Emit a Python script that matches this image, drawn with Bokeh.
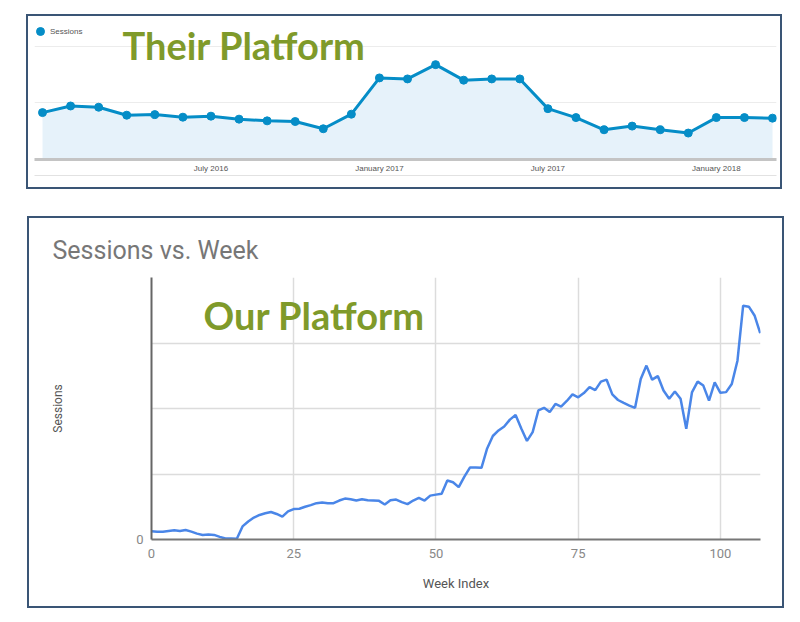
from bokeh.plotting import figure
from bokeh.models import Range1d, FixedTicker, Label, Legend, LegendItem, ColumnDataSource, LinearAxis
from bokeh.embed import file_html
from bokeh.resources import INLINE

# ---------------- data ----------------
months = ["Jan 2016", "Feb 2016", "Mar 2016", "Apr 2016", "May 2016", "Jun 2016",
          "Jul 2016", "Aug 2016", "Sep 2016", "Oct 2016", "Nov 2016", "Dec 2016",
          "Jan 2017", "Feb 2017", "Mar 2017", "Apr 2017", "May 2017", "Jun 2017",
          "Jul 2017", "Aug 2017", "Sep 2017", "Oct 2017", "Nov 2017", "Dec 2017",
          "Jan 2018", "Feb 2018", "Mar 2018"]
their_sessions = [830, 947, 925, 784, 795, 749, 767, 714, 684, 672, 544, 802,
                  1444, 1426, 1679, 1404, 1426, 1426, 900, 742, 526, 591, 526, 468,
                  742, 742, 732]
month_tick_pos = [6, 12, 18, 24]
month_tick_labels = ["July 2016", "January 2017", "July 2017", "January 2018"]

weeks = list(range(108))
our_sessions = [127, 120, 120, 130, 140, 130, 145, 120, 90, 70,
                75, 70, 40, 15, 15, 10, 200, 275, 335, 375,
                400, 420, 390, 350, 430, 465, 470, 500, 525, 555,
                565, 555, 555, 595, 625, 615, 595, 615, 600, 595,
                590, 535, 600, 610, 570, 540, 595, 635, 595, 670,
                685, 700, 900, 875, 800, 960, 1100, 1100, 1095, 1390,
                1580, 1665, 1725, 1830, 1900, 1695, 1505, 1640, 1970, 2010,
                1945, 2070, 2030, 2115, 2215, 2170, 2235, 2325, 2280, 2410,
                2440, 2215, 2130, 2085, 2045, 2010, 2450, 2655, 2440, 2495,
                2275, 2150, 2260, 2150, 1690, 2245, 2410, 2350, 2120, 2400,
                2240, 2250, 2375, 2730, 3570, 3555, 3420, 3150]
week_ticks = [0, 25, 50, 75, 100]
session_grid = [0, 1000, 2000, 3000, 4000]

BORDER = "2px solid #3a5575"
OLIVE = "#7f9a2a"

# ---------------- panel 1 : Their Platform ----------------
src1 = ColumnDataSource(dict(x=list(range(len(months))), y=their_sessions, m=months))
p1 = figure(width=756, height=175, output_backend="svg", toolbar_location=None,
            x_range=Range1d(-0.285, len(months) - 1 + 0.142), y_range=Range1d(0, 2460),
            min_border_left=6, min_border_right=8, min_border_top=4, min_border_bottom=32,
            styles={"border": BORDER}, margin=(14, 0, 0, 26))
p1.outline_line_color = None
p1.varea(x="x", y1=0, y2="y", source=src1, fill_color="#e6f2fa")
p1.line(x="x", y="y", source=src1, line_color="#058dc7", line_width=3)
dots = p1.scatter(x="x", y="y", source=src1, size=8, fill_color="#058dc7", line_color="#058dc7")

p1.yaxis.visible = False
p1.ygrid.ticker = FixedTicker(ticks=[1000, 2000])
p1.ygrid.grid_line_color = "#ececec"
p1.xgrid.grid_line_color = None
xa1 = p1.xaxis[0]
xa1.ticker = FixedTicker(ticks=month_tick_pos)
xa1.major_label_overrides = dict(zip(month_tick_pos, month_tick_labels))
xa1.axis_line_color = "#c4c4c4"
xa1.axis_line_width = 3
xa1.major_tick_line_color = None
xa1.minor_tick_line_color = None
xa1.major_tick_out = 0
xa1.major_label_standoff = 4
xa1.major_label_text_font = "Liberation Sans"
xa1.major_label_text_font_size = "8px"
xa1.major_label_text_color = "#555555"

# thin scroll-track line below the date labels
track = LinearAxis(ticker=FixedTicker(ticks=[]), axis_line_color="#e2e2e2", axis_line_width=1,
                   major_tick_line_color=None, minor_tick_line_color=None,
                   major_tick_out=0, major_label_text_font_size="0px")
p1.add_layout(track, "below")

leg = Legend(items=[LegendItem(label="Sessions", renderers=[dots])], location=(-4, 118),
             glyph_width=20, glyph_height=20, label_standoff=0, padding=0, margin=0,
             label_height=10, border_line_color=None, background_fill_alpha=0,
             label_text_font="Liberation Sans", label_text_font_size="8px",
             label_text_color="#555555")
p1.add_layout(leg)

p1.add_layout(Label(x=88, y=115, x_units="screen", y_units="screen", text="Their Platform",
                    text_font="Lato", text_font_style="bold", text_font_size="38px",
                    text_color=OLIVE, text_baseline="alphabetic"))

# ---------------- panel 2 : Our Platform ----------------
src2 = ColumnDataSource(dict(x=weeks, y=our_sessions))
p2 = figure(width=757, height=392, output_backend="svg", toolbar_location=None,
            x_range=Range1d(0, 107.05), y_range=Range1d(0, 4000),
            min_border_left=122, min_border_right=26, min_border_top=59, min_border_bottom=71,
            styles={"border": BORDER}, margin=(27, 0, 0, 27),
            title="Sessions vs. Week")
p2.outline_line_color = None
p2.title.align = "left"
p2.title.offset = -99
p2.title.standoff = 26
p2.title.text_font = "Roboto"
p2.title.text_font_style = "normal"
p2.title.text_font_size = "25px"
p2.title.text_color = "#777777"

p2.line(x="x", y="y", source=src2, line_color="#4a86e8", line_width=2.5)

p2.xgrid.ticker = FixedTicker(ticks=week_ticks)
p2.ygrid.ticker = FixedTicker(ticks=session_grid)
p2.xgrid.grid_line_color = "#dcdcdc"
p2.ygrid.grid_line_color = "#dcdcdc"
p2.xgrid.grid_line_width = 1.5
p2.ygrid.grid_line_width = 1.5

xa2 = p2.xaxis[0]
xa2.ticker = FixedTicker(ticks=week_ticks)
xa2.axis_label = "Week Index"
xa2.axis_label_text_font = "Roboto"
xa2.axis_label_text_font_style = "normal"
xa2.axis_label_text_font_size = "13px"
xa2.axis_label_text_color = "#555555"
xa2.axis_label_standoff = 15
xa2.major_label_text_font = "Roboto"
xa2.major_label_text_font_size = "13px"
xa2.major_label_text_color = "#888888"
xa2.major_label_standoff = 9
xa2.axis_line_color = "#777777"
xa2.axis_line_width = 2
xa2.major_tick_line_color = None
xa2.minor_tick_line_color = None
xa2.major_tick_out = 0

ya2 = p2.yaxis[0]
ya2.ticker = FixedTicker(ticks=session_grid)
ya2.major_label_overrides = {1000: "", 2000: "", 3000: "", 4000: ""}
ya2.axis_label = "Sessions"
ya2.axis_label_text_font = "Roboto"
ya2.axis_label_text_font_style = "normal"
ya2.axis_label_text_font_size = "12px"
ya2.axis_label_text_color = "#555555"
ya2.axis_label_standoff = 68
ya2.major_label_text_font = "Roboto"
ya2.major_label_text_font_size = "13px"
ya2.major_label_text_color = "#888888"
ya2.major_label_standoff = 8
ya2.axis_line_color = "#666666"
ya2.axis_line_width = 2
ya2.major_tick_line_color = None
ya2.minor_tick_line_color = None
ya2.major_tick_out = 0

p2.add_layout(Label(x=52, y=225, x_units="screen", y_units="screen", text="Our Platform",
                    text_font="Lato", text_font_style="bold", text_font_size="38px",
                    text_color=OLIVE, text_baseline="alphabetic"))

open("out.html", "w").write(file_html([p1, p2], INLINE))
